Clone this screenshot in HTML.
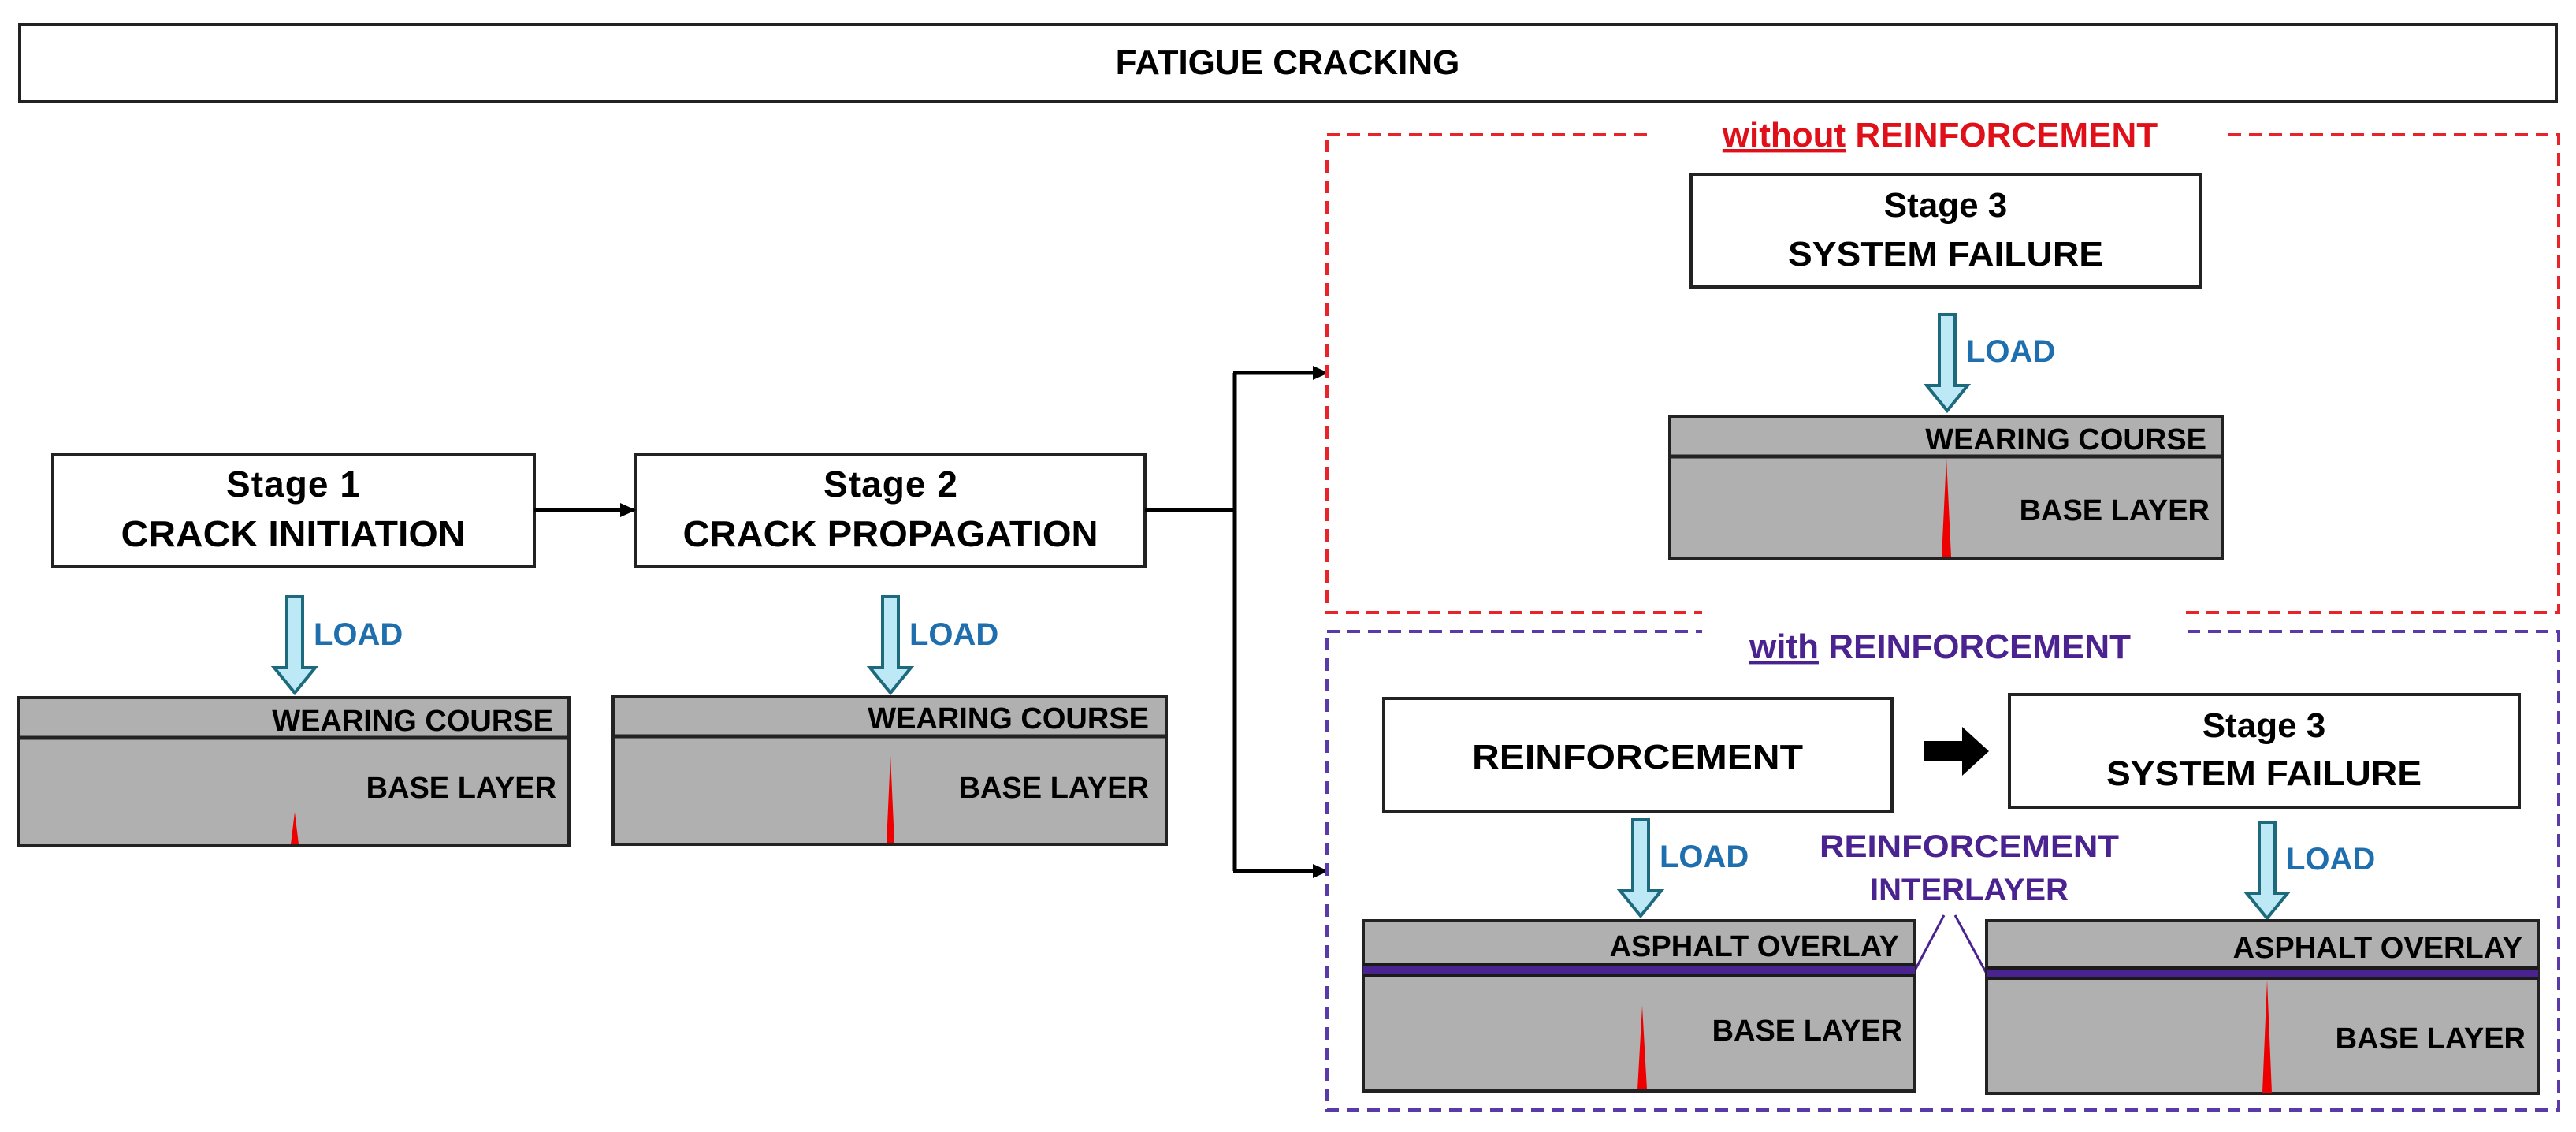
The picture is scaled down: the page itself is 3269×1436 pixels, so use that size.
<!DOCTYPE html>
<html><head><meta charset="utf-8"><style>html,body{margin:0;padding:0;background:#fff}svg{display:block}text{font-family:"Liberation Sans",sans-serif;font-weight:bold}</style></head><body>
<svg width="3269" height="1436" viewBox="0 0 3269 1436" xmlns="http://www.w3.org/2000/svg">
<defs>
<marker id="ah" markerWidth="20" markerHeight="18" refX="18" refY="9" orient="auto" markerUnits="userSpaceOnUse"><path d="M0,0 L20,9 L0,18 z" fill="#000"/></marker>
<g id="load"><path d="M-10,0 H10 V90 H26 L0,122 L-26,90 H-10 Z" fill="#bde9f7" stroke="#1c6a7c" stroke-width="4"/></g>
</defs>
<rect x="25" y="31" width="3219" height="98" fill="#fff" stroke="#222" stroke-width="4"/>
<text x="1634" y="94" font-size="44" text-anchor="middle">FATIGUE CRACKING</text>

<rect x="67" y="577" width="611" height="142" fill="#fff" stroke="#222" stroke-width="4"/>
<text x="372" y="630" font-size="46" text-anchor="middle" textLength="170">Stage 1</text>
<text x="372" y="693" font-size="46" text-anchor="middle" textLength="437" lengthAdjust="spacingAndGlyphs">CRACK INITIATION</text>
<rect x="807" y="577" width="646" height="142" fill="#fff" stroke="#222" stroke-width="4"/>
<text x="1130" y="630" font-size="46" text-anchor="middle" textLength="170">Stage 2</text>
<text x="1130" y="693" font-size="46" text-anchor="middle" textLength="527" lengthAdjust="spacingAndGlyphs">CRACK PROPAGATION</text>
<line x1="678" y1="647" x2="805" y2="647" stroke="#000" stroke-width="6" marker-end="url(#ah)"/>
<polyline points="1453,647 1567,647" fill="none" stroke="#000" stroke-width="6"/>
<line x1="1567" y1="473" x2="1567" y2="1105" stroke="#000" stroke-width="5"/>
<line x1="1565" y1="473" x2="1684" y2="473" stroke="#000" stroke-width="5" marker-end="url(#ah)"/>
<line x1="1565" y1="1105" x2="1684" y2="1105" stroke="#000" stroke-width="5" marker-end="url(#ah)"/>

<use href="#load" x="374" y="757"/><text x="398" y="818" font-size="40" fill="#1f6fae">LOAD</text>
<use href="#load" x="1130" y="757"/><text x="1154" y="818" font-size="40" fill="#1f6fae">LOAD</text>

<rect x="24" y="885" width="698" height="188" fill="#b0b0b0" stroke="#222" stroke-width="4"/>
<line x1="24" y1="936" x2="722" y2="936" stroke="#222" stroke-width="5"/>
<text x="702" y="927" font-size="38" text-anchor="end">WEARING COURSE</text>
<text x="706" y="1012" font-size="38" text-anchor="end">BASE LAYER</text>
<path d="M369,1071 L374,1030 L379,1071 Z" fill="#e00"/>
<rect x="778" y="884" width="702" height="187" fill="#b0b0b0" stroke="#222" stroke-width="4"/>
<line x1="778" y1="934" x2="1480" y2="934" stroke="#222" stroke-width="5"/>
<text x="1458" y="924" font-size="38" text-anchor="end">WEARING COURSE</text>
<text x="1458" y="1012" font-size="38" text-anchor="end">BASE LAYER</text>
<path d="M1125,1069 L1130,958 L1135,1069 Z" fill="#e00"/>

<rect x="1684" y="171" width="1563" height="606" fill="none" stroke="#e8242a" stroke-width="4" stroke-dasharray="16,10"/>
<rect x="2100" y="140" width="720" height="60" fill="#fff"/>
<text x="2462" y="186" font-size="44" text-anchor="middle" fill="#e0101a"><tspan text-decoration="underline">without</tspan> REINFORCEMENT</text>
<rect x="2146" y="221" width="646" height="143" fill="#fff" stroke="#222" stroke-width="4"/>
<text x="2469" y="275" font-size="44" text-anchor="middle">Stage 3</text>
<text x="2469" y="337" font-size="44" text-anchor="middle" textLength="400" lengthAdjust="spacingAndGlyphs">SYSTEM FAILURE</text>
<use href="#load" x="2471" y="399"/><text x="2495" y="459" font-size="40" fill="#1f6fae">LOAD</text>
<rect x="2119" y="528" width="701" height="180" fill="#b0b0b0" stroke="#222" stroke-width="4"/>
<line x1="2119" y1="579" x2="2820" y2="579" stroke="#222" stroke-width="5"/>
<text x="2800" y="570" font-size="38" text-anchor="end">WEARING COURSE</text>
<text x="2804" y="660" font-size="38" text-anchor="end">BASE LAYER</text>
<path d="M2464,706 L2470,581 L2476,706 Z" fill="#e00"/>

<rect x="1684" y="801" width="1563" height="607" fill="none" stroke="#5a3aa8" stroke-width="4" stroke-dasharray="16,10"/>
<rect x="2160" y="770" width="610" height="60" fill="#fff"/>
<text x="2462" y="835" font-size="44" text-anchor="middle" fill="#4b2390"><tspan text-decoration="underline">with</tspan> REINFORCEMENT</text>
<rect x="1756" y="886" width="645" height="143" fill="#fff" stroke="#222" stroke-width="4"/>
<text x="2078" y="975" font-size="44" text-anchor="middle" textLength="420" lengthAdjust="spacingAndGlyphs">REINFORCEMENT</text>
<path d="M2441,940 H2490 V922 L2524,953 L2490,984 V966 H2441 Z" fill="#000"/>
<rect x="2550" y="881" width="647" height="143" fill="#fff" stroke="#222" stroke-width="4"/>
<text x="2873" y="935" font-size="44" text-anchor="middle">Stage 3</text>
<text x="2873" y="996" font-size="44" text-anchor="middle" textLength="400" lengthAdjust="spacingAndGlyphs">SYSTEM FAILURE</text>

<use href="#load" x="2082" y="1040"/><text x="2106" y="1100" font-size="40" fill="#1f6fae">LOAD</text>
<use href="#load" x="2877" y="1043"/><text x="2901" y="1103" font-size="40" fill="#1f6fae">LOAD</text>
<text x="2499" y="1087" font-size="40" text-anchor="middle" fill="#4b2390" textLength="380" lengthAdjust="spacingAndGlyphs">REINFORCEMENT</text>
<text x="2499" y="1142" font-size="40" text-anchor="middle" fill="#4b2390">INTERLAYER</text>
<polyline points="2430,1231 2467,1161" fill="none" stroke="#4b2390" stroke-width="3"/>
<polyline points="2481,1161 2521,1235" fill="none" stroke="#4b2390" stroke-width="3"/>

<rect x="1730" y="1168" width="700" height="216" fill="#b0b0b0" stroke="#222" stroke-width="4"/>
<rect x="1730" y="1222" width="700" height="17" fill="#1a1a1a"/>
<rect x="1730" y="1226" width="700" height="9" fill="#4b2390"/>
<text x="2410" y="1213" font-size="38" text-anchor="end">ASPHALT OVERLAY</text>
<text x="2414" y="1320" font-size="38" text-anchor="end">BASE LAYER</text>
<path d="M2078,1382 L2084,1276 L2090,1382 Z" fill="#e00"/>

<rect x="2521" y="1168" width="700" height="219" fill="#b0b0b0" stroke="#222" stroke-width="4"/>
<rect x="2521" y="1226" width="700" height="17" fill="#1a1a1a"/>
<rect x="2521" y="1230" width="700" height="9" fill="#4b2390"/>
<text x="3201" y="1215" font-size="38" text-anchor="end">ASPHALT OVERLAY</text>
<text x="3205" y="1330" font-size="38" text-anchor="end">BASE LAYER</text>
<path d="M2871,1386 L2877,1243 L2883,1386 Z" fill="#e00"/>
</svg>
</body></html>
